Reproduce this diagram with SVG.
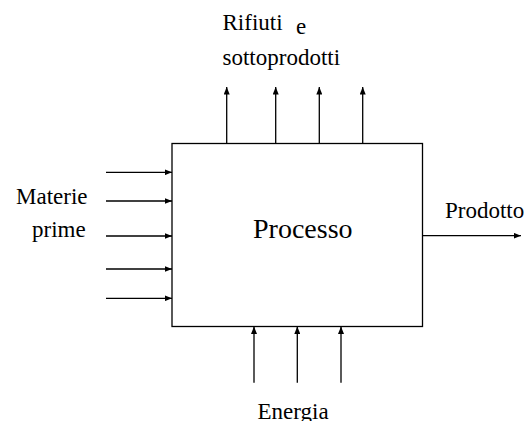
<svg xmlns="http://www.w3.org/2000/svg" width="530" height="421" viewBox="0 0 530 421">
<style>
text{font-family:"Liberation Serif","Times New Roman",serif;fill:#000}
.lbl{font-size:23px}
.big{font-size:28px}
.c{stroke:#000;stroke-width:1.3;fill:none}
</style>
<defs>
<marker id="ah" viewBox="0 0 10 8" refX="10" refY="4" markerWidth="7.5" markerHeight="6" markerUnits="userSpaceOnUse" orient="auto">
<path d="M0,0 L10,4 L0,8 Z" fill="#000"/>
</marker>
</defs>
<rect width="530" height="421" fill="#fff"/>
<g id="processo">
<rect x="172" y="143.5" width="250.5" height="183" fill="#fff" stroke="#000" stroke-width="1.3"/>
<text class="big" x="253" y="238">Processo</text>
</g>
<g id="rifiuti">
<text class="lbl" x="222.5" y="30">Rifiuti</text>
<text class="lbl" x="296" y="34">e</text>
<text class="lbl" x="222.5" y="65">sottoprodotti</text>
</g>
<g id="materie">
<text class="lbl" x="16" y="204">Materie</text>
<text class="lbl" x="32" y="237">prime</text>
</g>
<g id="prodotto">
<text class="lbl" x="445" y="218">Prodotto</text>
</g>
<g id="energia">
<text class="lbl" x="257.5" y="419">Energia</text>
</g>
<g id="connectors">
<line class="c" x1="226.7" y1="143.5" x2="226.7" y2="87" marker-end="url(#ah)"/>
<line class="c" x1="275.7" y1="143.5" x2="275.7" y2="87" marker-end="url(#ah)"/>
<line class="c" x1="319.3" y1="143.5" x2="319.3" y2="87" marker-end="url(#ah)"/>
<line class="c" x1="362.7" y1="143.5" x2="362.7" y2="87" marker-end="url(#ah)"/>
<line class="c" x1="106" y1="172.3" x2="172" y2="172.3" marker-end="url(#ah)"/>
<line class="c" x1="106" y1="201" x2="172" y2="201" marker-end="url(#ah)"/>
<line class="c" x1="106" y1="236" x2="172" y2="236" marker-end="url(#ah)"/>
<line class="c" x1="106" y1="269" x2="172" y2="269" marker-end="url(#ah)"/>
<line class="c" x1="106" y1="298.3" x2="172" y2="298.3" marker-end="url(#ah)"/>
<line class="c" x1="422.5" y1="235.7" x2="521" y2="235.7" marker-end="url(#ah)"/>
<line class="c" x1="254" y1="382.7" x2="254" y2="326.5" marker-end="url(#ah)"/>
<line class="c" x1="297.3" y1="382.7" x2="297.3" y2="326.5" marker-end="url(#ah)"/>
<line class="c" x1="341" y1="382.7" x2="341" y2="326.5" marker-end="url(#ah)"/>
</g>
</svg>
